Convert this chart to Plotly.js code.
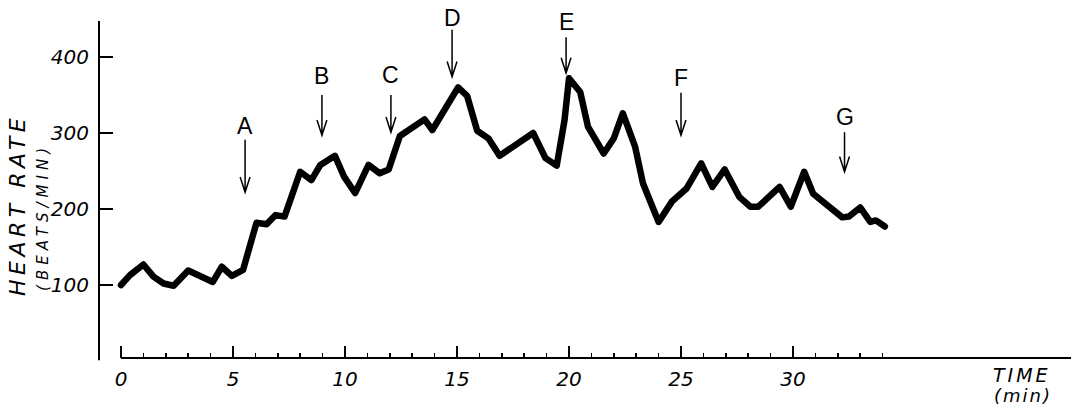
<!DOCTYPE html>
<html>
<head>
<meta charset="utf-8">
<script src="https://cdn.plot.ly/plotly-3.0.1.min.js"></script>
<style>
  html, body { margin: 0; padding: 0; background: #fff; }
  #chart { width: 1071px; height: 407px; }
  .js-line { stroke-linejoin: round !important; stroke-linecap: round !important; }
</style>
</head>
<body>
<div id="chart"></div>
<script>
// ---- data ----
const timeMin = [0, 0.4, 1.0, 1.45, 1.9, 2.35, 3.0, 3.55, 4.1, 4.5, 4.95, 5.45, 6.05, 6.5, 6.9, 7.3,
  8.0, 8.5, 8.9, 9.55, 9.95, 10.45, 11.05, 11.55, 11.95, 12.45, 12.9, 13.55, 13.9, 15.05, 15.45,
  15.9, 16.4, 16.9, 18.4, 18.95, 19.45, 19.8, 20.0, 20.5, 20.85, 21.55, 22.0, 22.4, 22.95, 23.3,
  24.0, 24.6, 25.25, 25.9, 26.4, 26.95, 27.6, 28.1, 28.45, 29.4, 29.9, 30.5, 30.9, 31.35, 32.2,
  32.5, 33.0, 33.45, 33.7, 34.1];
const heartRate = [100, 113, 127, 111, 102, 99, 119, 112, 104, 124, 112, 120, 182, 180, 192, 190,
  249, 238, 258, 270, 243, 221, 258, 247, 252, 296, 306, 318, 304, 360, 349,
  303, 293, 270, 300, 267, 257, 317, 372, 354, 308, 273, 293, 326, 282, 234,
  183, 210, 227, 260, 229, 252, 216, 203, 203, 229, 203, 249, 220, 210, 189,
  190, 202, 183, 185, 177];

const eventLabels = ["A", "B", "C", "D", "E", "F", "G"];
const eventTimes = [5.54, 8.97, 12.05, 14.78, 19.87, 25.0, 32.3];

const xMajorTicks = [0, 5, 10, 15, 20, 25, 30];
const xTickLabels = ["0", "5", "10", "15", "20", "25", "30"];
const xMinorTicks = [];
for (let i = 0; i <= 34; i++) xMinorTicks.push(i);
const yTicks = [100, 200, 300, 400];
const yTickLabels = ["100", "200", "300", "400"];

// ---- annotation placement (layout, heart-rate units) ----
const arrowTop = [291, 350, 350, 436, 426, 353, 301];
const arrowBottom = [222, 297, 301, 374, 379, 297, 249];
const letterY = [309, 375, 376, 451, 446, 372, 321];

const xRange = [-0.982, 42.41];
const yRange = [3.95, 475];

const shapes = [
  { type: 'line', xref: 'x', yref: 'paper', x0: 0, x1: xRange[1], y0: 0, y1: 0,
    line: { color: '#000', width: 2 } },
  { type: 'line', xref: 'paper', yref: 'paper', x0: 0, x1: 0, y0: -0.006, y1: 0.941,
    line: { color: '#000', width: 2 } }
];
const headDx = 0.22, headDy = 20;
eventTimes.forEach((t, i) => {
  const top = arrowTop[i], bot = arrowBottom[i];
  shapes.push({
    type: 'path', xref: 'x', yref: 'y',
    path: `M ${t},${top} L ${t},${bot} M ${t - headDx},${bot + headDy} L ${t},${bot} L ${t + headDx},${bot + headDy}`,
    line: { color: '#000', width: 1.5 }
  });
});

const letterFont = { family: 'Liberation Sans, Arial, sans-serif', size: 23, color: '#000' };
const annotations = eventLabels.map((lab, i) => ({
  x: eventTimes[i], y: letterY[i], xref: 'x', yref: 'y', text: lab, showarrow: false,
  xanchor: 'center', yanchor: 'middle', font: letterFont
}));
const titleFontBig = { family: 'DejaVu Sans, sans-serif', size: 22, color: '#000', style: 'italic' };
const titleFontSmall = { family: 'DejaVu Sans, sans-serif', size: 15, color: '#000', style: 'italic' };
annotations.push(
  { xref: 'paper', yref: 'paper', x: -0.0833, y: 0.4274, textangle: -90, showarrow: false,
    xanchor: 'center', yanchor: 'middle', font: titleFontBig,
    text: '<span style="letter-spacing:4.5px">HEART RATE</span>' },
  { xref: 'paper', yref: 'paper', x: -0.0576, y: 0.394, textangle: -90, showarrow: false,
    xanchor: 'center', yanchor: 'middle', font: titleFontSmall,
    text: '<span style="letter-spacing:5px">(BEATS/MIN)</span>' },
  { xref: 'paper', yref: 'paper', x: 0.9496, y: -0.0475, showarrow: false,
    xanchor: 'center', yanchor: 'middle',
    font: { family: 'DejaVu Sans, sans-serif', size: 19, color: '#000', style: 'italic' },
    text: '<span style="letter-spacing:3px">TIME</span>' },
  { xref: 'paper', yref: 'paper', x: 0.9506, y: -0.1034, showarrow: false,
    xanchor: 'center', yanchor: 'middle',
    font: { family: 'DejaVu Sans, sans-serif', size: 18, color: '#000', style: 'italic' },
    text: '<span style="letter-spacing:2px">(min)</span>' }
);

const tickFont = { family: 'DejaVu Sans, sans-serif', size: 20, color: '#000', style: 'italic' };

const trace = {
  x: timeMin, y: heartRate, type: 'scatter', mode: 'lines',
  line: { color: '#000', width: 6.5, shape: 'linear' },
  hoverinfo: 'skip'
};

const layout = {
  width: 1071, height: 407,
  margin: { l: 99, r: 0, t: 0, b: 49, pad: 0 },
  paper_bgcolor: '#fff', plot_bgcolor: '#fff',
  showlegend: false,
  xaxis: {
    range: xRange, showgrid: false, zeroline: false, showline: false,
    tickmode: 'array', tickvals: xMajorTicks, ticktext: xTickLabels,
    ticks: 'inside', ticklen: 12, tickwidth: 1.5, tickcolor: '#000',
    ticklabelstandoff: 7, tickfont: tickFont,
    minor: { tickmode: 'array', tickvals: xMinorTicks, ticks: 'inside', ticklen: 5,
             tickwidth: 1.5, tickcolor: '#000', showgrid: false }
  },
  yaxis: {
    range: yRange, showgrid: false, zeroline: false, showline: false,
    tickmode: 'array', tickvals: yTicks, ticktext: yTickLabels,
    ticks: 'inside', ticklen: 14, tickwidth: 1.5, tickcolor: '#000',
    ticklabelstandoff: 9, tickfont: tickFont
  },
  shapes: shapes,
  annotations: annotations
};

Plotly.newPlot('chart', [trace], layout, { staticPlot: true, displayModeBar: false });
</script>
</body>
</html>
